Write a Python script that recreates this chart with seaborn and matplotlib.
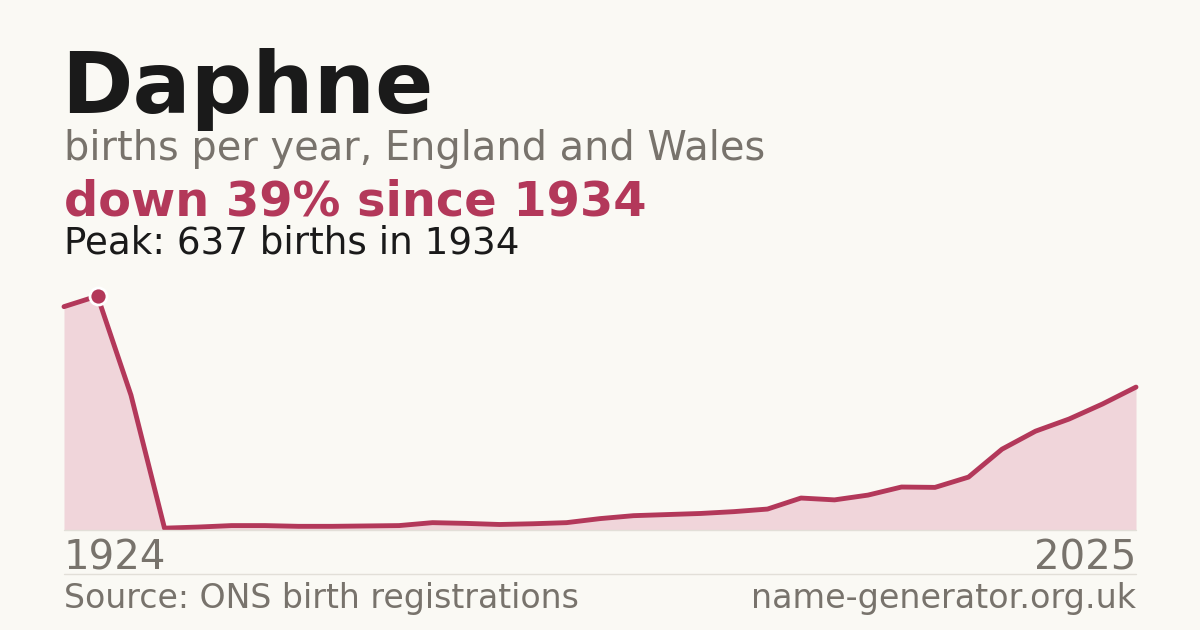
import matplotlib
matplotlib.use("Agg")
import matplotlib.pyplot as plt
import seaborn as sns
import pandas as pd

# Daphne births per year
years = [1924, 1934, 1944, 1954, 1964, 1974, 1984, 1994,
         2001, 2002, 2003, 2004, 2005, 2006, 2007, 2008, 2009, 2010,
         2011, 2012, 2013, 2014, 2015, 2016, 2017, 2018, 2019, 2020,
         2021, 2022, 2023, 2024, 2025]
births = [608, 637, 367, 5, 8, 12, 12, 10,
          10, 11, 12, 20, 18, 15, 17, 20, 31, 39, 42,
          45, 50, 57, 87, 82, 95, 117, 116, 144, 220,
          269, 302, 343, 389]

peak_idx = births.index(max(births))
df = pd.DataFrame({"idx": range(len(years)), "year": years, "births": births})

BG = "#faf9f4"
RED = "#b3385a"
FILL = "#f0d5da"
GREY = "#78736c"
DARK = "#1a1a1a"

sns.set_theme(style="white")
plt.rcParams["font.family"] = ["DejaVu Sans"]

fig = plt.figure(figsize=(12, 6.3), dpi=100, facecolor=BG)
ax = fig.add_axes([64 / 1200, 100 / 630, 1072 / 1200, 234 / 630])
ax.set_facecolor(BG)

ax.fill_between(df["idx"], df["births"], 0, color=FILL, lw=0)
sns.lineplot(data=df, x="idx", y="births", ax=ax, color=RED, lw=3.5,
             solid_joinstyle="round", clip_on=False)
ax.scatter([peak_idx], [births[peak_idx]], s=150, color=RED,
           edgecolor="white", linewidth=2.0, zorder=5, clip_on=False)

ax.set_xlim(0, len(years) - 1)
ax.set_ylim(0, max(births))
ax.axis("off")

# faint baseline and separator
fig.add_artist(plt.Line2D([64 / 1200, 1136 / 1200], [100 / 630, 100 / 630],
                          color="#e2dfd8", lw=1))
fig.add_artist(plt.Line2D([64 / 1200, 1136 / 1200], [56 / 630, 56 / 630],
                          color="#e2dfd8", lw=1))

def fy(px):
    return 1 - px / 630

x0 = 64 / 1200
fig.text(x0 - 0.002, fy(113), "Daphne", fontsize=62, fontweight="bold",
         color=DARK, va="baseline")
fig.text(x0, fy(160), "births per year, England and Wales", fontsize=28.7,
         color=GREY, va="baseline")
drop = round((1 - births[-1] / max(births)) * 100)
fig.text(x0, fy(215), f"down {drop}% since {years[peak_idx]}", fontsize=34.5,
         fontweight="bold", color=RED, va="baseline")
fig.text(x0, fy(253), f"Peak: {max(births)} births in {years[peak_idx]}",
         fontsize=26.8, color=DARK, va="baseline")

fig.text(x0, fy(570), str(years[0]), fontsize=28.9, color=GREY, va="baseline")
fig.text(1136 / 1200, fy(570), str(years[-1]), fontsize=28.9, color=GREY,
         va="baseline", ha="right")
fig.text(x0, fy(608), "Source: ONS birth registrations", fontsize=23.9,
         color=GREY, va="baseline")
fig.text(1136 / 1200, fy(608), "name-generator.org.uk", fontsize=24,
         color=GREY, va="baseline", ha="right")

fig.savefig("out.png", dpi=100, facecolor=BG)
